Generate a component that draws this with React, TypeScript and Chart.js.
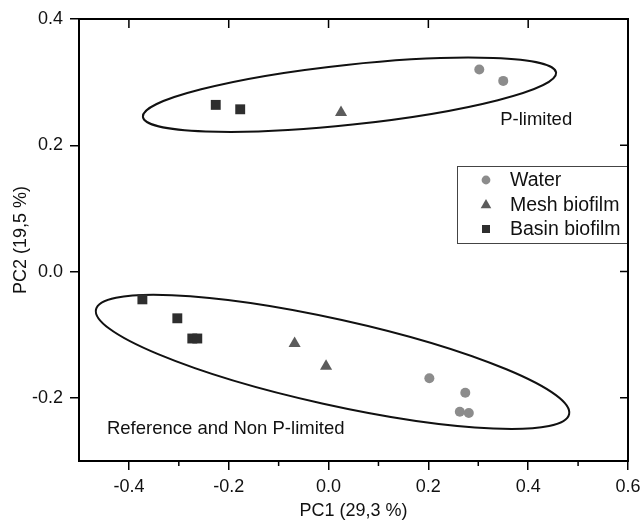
import React, { useEffect, useRef } from 'react';
import { Chart, registerables } from 'chart.js';

Chart.register(...registerables);

const seriesNames = ['Water', 'Mesh biofilm', 'Basin biofilm'];
const seriesColors = ['#8c8c8c', '#5c5c5c', '#2e2e2e'];
const waterX = [0.302, 0.350, 0.202, 0.274, 0.263, 0.281];
const waterY = [0.320, 0.302, -0.169, -0.192, -0.222, -0.224];
const meshX = [0.025, -0.068, -0.005];
const meshY = [0.252, -0.114, -0.150];
const basinX = [-0.226, -0.177, -0.373, -0.303, -0.273, -0.263];
const basinY = [0.264, 0.257, -0.044, -0.074, -0.106, -0.106];

const xTicks = [-0.4, -0.2, 0, 0.2, 0.4, 0.6];
const xMinorTicks = [-0.3, -0.1, 0.1, 0.3, 0.5];
const yTicks = [0.4, 0.2, 0, -0.2];

const groupLabels = ['P-limited', 'Reference and Non P-limited'];
const groupLabelX = [0.344, -0.444];
const groupLabelY = [0.240, -0.249];

// ellipses: major-axis end points (data units) and half-width (y data units)
const ellipseX1 = [-0.372, -0.466];
const ellipseY1 = [0.245, -0.060];
const ellipseX2 = [0.456, 0.482];
const ellipseY2 = [0.315, -0.226];
const ellipseHalfWidth = [0.0475, 0.068];

const FONT = "'Liberation Sans', Arial, sans-serif";

const toPts = (xs: number[], ys: number[]) => xs.map((x, i) => ({ x, y: ys[i] }));

const decorPlugin = {
  id: 'decor',
  beforeDatasetsDraw(chart: any) {
    const { ctx, scales } = chart;
    const xs = scales.x, ys = scales.y;
    const pxPerY = Math.abs(ys.getPixelForValue(0) - ys.getPixelForValue(1));
    ctx.save();
    ctx.strokeStyle = '#111';
    ctx.lineWidth = 2;
    for (let i = 0; i < ellipseX1.length; i++) {
      const x1 = xs.getPixelForValue(ellipseX1[i]);
      const y1 = ys.getPixelForValue(ellipseY1[i]);
      const x2 = xs.getPixelForValue(ellipseX2[i]);
      const y2 = ys.getPixelForValue(ellipseY2[i]);
      const cx = (x1 + x2) / 2, cy = (y1 + y2) / 2;
      const a = Math.hypot(x2 - x1, y2 - y1) / 2;
      const b = ellipseHalfWidth[i] * pxPerY;
      const ang = Math.atan2(y2 - y1, x2 - x1);
      ctx.beginPath();
      ctx.ellipse(cx, cy, a, b, ang, 0, Math.PI * 2);
      ctx.stroke();
    }
    ctx.restore();
  },
  afterDraw(chart: any) {
    const { ctx, scales, chartArea } = chart;
    const xs = scales.x, ys = scales.y;
    const { left, right, top, bottom } = chartArea;
    ctx.save();
    ctx.strokeStyle = '#000';
    ctx.lineWidth = 2;
    // top and right frame
    ctx.beginPath();
    ctx.moveTo(left - 1, top);
    ctx.lineTo(right, top);
    ctx.lineTo(right, bottom + 1);
    ctx.stroke();
    // top inward ticks
    ctx.lineWidth = 1.5;
    ctx.beginPath();
    xTicks.forEach((v) => {
      const px = xs.getPixelForValue(v);
      if (px > left + 2 && px < right - 2) {
        ctx.moveTo(px, top);
        ctx.lineTo(px, top + 9);
      }
    });
    // right inward ticks
    yTicks.forEach((v) => {
      const py = ys.getPixelForValue(v);
      if (py > top + 2 && py < bottom - 2) {
        ctx.moveTo(right, py);
        ctx.lineTo(right - 8, py);
      }
    });
    // bottom minor ticks
    xMinorTicks.forEach((v) => {
      const px = xs.getPixelForValue(v);
      ctx.moveTo(px, bottom);
      ctx.lineTo(px, bottom + 5);
    });
    ctx.stroke();

    // group labels
    ctx.fillStyle = '#111';
    ctx.font = `18.5px ${FONT}`;
    ctx.textAlign = 'left';
    ctx.textBaseline = 'middle';
    groupLabels.forEach((t, i) => {
      ctx.fillText(t, xs.getPixelForValue(groupLabelX[i]), ys.getPixelForValue(groupLabelY[i]));
    });

    // legend
    const boxW = 171, boxH = 77;
    const bx = right - boxW, by = top + 147;
    ctx.fillStyle = '#fff';
    ctx.fillRect(bx, by, boxW, boxH);
    ctx.strokeStyle = '#444';
    ctx.lineWidth = 1;
    ctx.strokeRect(bx + 0.5, by + 0.5, boxW, boxH);
    ctx.lineWidth = 2;
    ctx.strokeStyle = '#000';
    ctx.beginPath();
    ctx.moveTo(right, by - 2);
    ctx.lineTo(right, by + boxH + 2);
    ctx.stroke();
    ctx.font = `19.5px ${FONT}`;
    seriesNames.forEach((name, i) => {
      const cy = by + 14 + i * 24.5;
      const mx = bx + 29;
      ctx.fillStyle = seriesColors[i];
      ctx.beginPath();
      if (i === 0) {
        ctx.arc(mx, cy, 4.4, 0, Math.PI * 2);
      } else if (i === 1) {
        ctx.moveTo(mx, cy - 5.5);
        ctx.lineTo(mx + 5.3, cy + 3.8);
        ctx.lineTo(mx - 5.3, cy + 3.8);
        ctx.closePath();
      } else {
        ctx.rect(mx - 4, cy - 4, 8, 8);
      }
      ctx.fill();
      ctx.fillStyle = '#111';
      ctx.fillText(name, bx + 53, cy + 1);
    });
    ctx.restore();
  },
};

export default function App() {
  const canvasRef = useRef<HTMLCanvasElement | null>(null);

  useEffect(() => {
    if (!canvasRef.current) return;
    const tickFont = { family: FONT, size: 18 };
    const chart = new Chart(canvasRef.current, {
      type: 'scatter',
      data: {
        datasets: [
          {
            label: seriesNames[0],
            data: toPts(waterX, waterY),
            pointStyle: 'circle',
            pointRadius: 5,
            backgroundColor: seriesColors[0],
            borderColor: seriesColors[0],
            borderWidth: 0,
          },
          {
            label: seriesNames[1],
            data: toPts(meshX, meshY),
            pointStyle: 'triangle',
            pointRadius: 7,
            backgroundColor: seriesColors[1],
            borderColor: seriesColors[1],
            borderWidth: 0,
          },
          {
            label: seriesNames[2],
            data: toPts(basinX, basinY),
            pointStyle: 'rect',
            pointRadius: 7,
            backgroundColor: seriesColors[2],
            borderColor: seriesColors[2],
            borderWidth: 0,
          },
        ],
      },
      options: {
        animation: false,
        responsive: false,
        events: [],
        layout: { padding: { top: 19, right: 13, left: 0, bottom: 0 } },
        plugins: {
          legend: { display: false },
          tooltip: { enabled: false },
        },
        scales: {
          x: {
            type: 'linear',
            min: -0.5,
            max: 0.6,
            afterBuildTicks: (s: any) => {
              s.ticks = xTicks.map((v) => ({ value: v }));
            },
            afterFit: (s: any) => {
              s.height = 65;
              s.paddingLeft = 0;
              s.paddingRight = 0;
            },
            ticks: {
              callback: (v: any) => Number(v).toFixed(1),
              font: tickFont,
              color: '#111',
              padding: 6,
              maxRotation: 0,
              autoSkip: false,
            },
            grid: {
              drawOnChartArea: false,
              drawTicks: true,
              tickLength: 9,
              color: '#000',
              lineWidth: 1.5,
            },
            border: { display: true, color: '#000', width: 2 },
            title: {
              display: true,
              text: 'PC1 (29,3 %)',
              font: { family: FONT, size: 18 },
              color: '#111',
              padding: { top: 0, bottom: 4 },
            },
          },
          y: {
            type: 'linear',
            min: -0.3,
            max: 0.4,
            afterBuildTicks: (s: any) => {
              s.ticks = yTicks.map((v) => ({ value: v }));
            },
            afterFit: (s: any) => {
              s.width = 79;
              s.paddingTop = 0;
              s.paddingBottom = 0;
            },
            ticks: {
              callback: (v: any) => Number(v).toFixed(1),
              font: tickFont,
              color: '#111',
              padding: 7,
              autoSkip: false,
            },
            grid: {
              drawOnChartArea: false,
              drawTicks: true,
              tickLength: 9,
              color: '#000',
              lineWidth: 1.5,
            },
            border: { display: true, color: '#000', width: 2 },
            title: {
              display: true,
              text: 'PC2 (19,5 %)',
              font: { family: FONT, size: 18 },
              color: '#111',
              padding: { top: 10, bottom: 0 },
            },
          },
        },
      } as any,
      plugins: [decorPlugin],
    });
    return () => chart.destroy();
  }, []);

  return (
    <div style={{ position: 'absolute', left: 0, top: 0, width: 641, height: 526, background: '#fff' }}>
      <canvas ref={canvasRef} width={641} height={526} style={{ display: 'block' }} />
    </div>
  );
}
